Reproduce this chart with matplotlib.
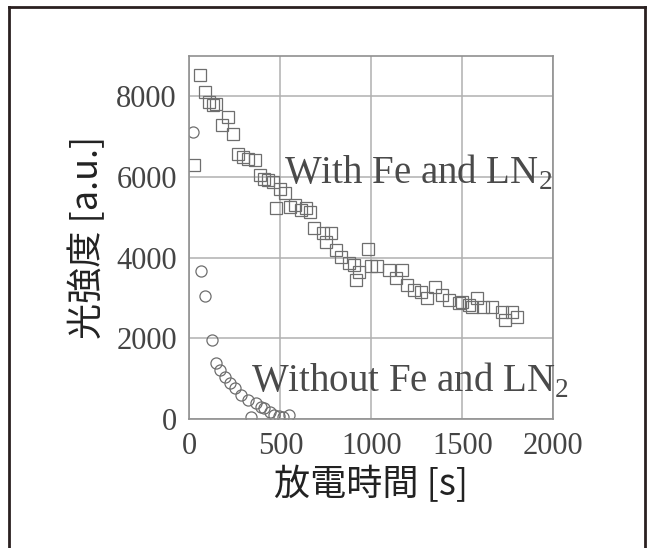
import matplotlib
matplotlib.use("Agg")
import matplotlib.pyplot as plt
from matplotlib.lines import Line2D

# Données
t_without = [22, 62, 86, 122, 144, 166, 193, 221, 248, 284, 321, 340, 366, 395,
             412, 440, 465, 490, 512, 549]
I_without = [7120, 3675, 3048, 1950, 1395, 1214, 1048, 885, 760, 595, 471, 50,
             389, 300, 265, 181, 110, 80, 40, 110]

t_with = [27, 58, 86, 108, 130, 144, 177, 210, 237, 268, 293, 320, 359, 386, 410,
          432, 459, 478, 500, 524, 550, 580, 614, 640, 660, 687, 733, 751, 778,
          805, 833, 878, 905, 917, 933, 984, 1000, 1033, 1097, 1133, 1170, 1197,
          1233, 1270, 1306, 1352, 1388, 1424, 1479, 1497, 1534, 1552, 1580, 1616,
          1661, 1716, 1734, 1770, 1798]
I_with = [6294, 8525, 8110, 7860, 7780, 7820, 7285, 7490, 7060, 6567, 6500, 6450,
          6418, 6046, 5950, 5922, 5880, 5221, 5700, 5600, 5261, 5300, 5180, 5220,
          5137, 4725, 4601, 4394, 4601, 4188, 4022, 3858, 3816, 3444, 3650, 4205,
          3800, 3791, 3692, 3487, 3692, 3320, 3196, 3150, 2990, 3278, 3073, 2949,
          2867, 2907, 2825, 2783, 2990, 2783, 2783, 2659, 2453, 2659, 2535]

x_ticks = [0, 500, 1000, 1500, 2000]
y_ticks = [0, 2000, 4000, 6000, 8000]

plt.rcParams["mathtext.fontset"] = "custom"
plt.rcParams["mathtext.rm"] = "Liberation Serif"

serif = "Liberation Serif"
cjk = ["Noto Sans CJK JP", "DejaVu Sans"]

fig = plt.figure(figsize=(6.51, 5.48), dpi=100)
ax = fig.add_axes([0.291, 0.2354, 0.559, 0.6626])

grey = "#6e6e6e"
ax.plot(t_with, I_with, linestyle="none", marker="s", markersize=8.8,
        markerfacecolor="none", markeredgecolor=grey, markeredgewidth=0.9)
ax.plot(t_without, I_without, linestyle="none", marker="o", markersize=8,
        markerfacecolor="none", markeredgecolor=grey, markeredgewidth=0.9)

ax.set_xlim(0, 2000)
ax.set_ylim(0, 9000)
ax.set_xticks(x_ticks)
ax.set_yticks(y_ticks)
ax.grid(True, color="#b0b0b0", linewidth=1.1)
ax.set_axisbelow(True)
for s in ax.spines.values():
    s.set_color("#909090")
    s.set_linewidth(1.2)
ax.tick_params(length=0, pad=9, labelcolor="#444444", labelsize=22)
for lab in ax.get_xticklabels() + ax.get_yticklabels():
    lab.set_family(serif)

ax.text(522, 6100, r"With Fe and LN$_2$", family=serif, fontsize=28,
        color="#4a4a4a", va="center", ha="left", clip_on=False)
ax.text(340, 950, r"Without Fe and LN$_2$", family=serif, fontsize=28,
        color="#4a4a4a", va="center", ha="left", clip_on=False)

ax.set_xlabel("放電時間 [s]", family=cjk, fontsize=26, color="#222222", labelpad=4)
ax.set_ylabel("光強度 [a.u.]", family=cjk, fontsize=26, color="#222222", labelpad=7)

# Cadre extérieur
fig.add_artist(Line2D([9 / 651, 9 / 651], [0, 1 - 7 / 548], color="#2a2020", lw=2))
fig.add_artist(Line2D([645 / 651, 645 / 651], [0, 1 - 7 / 548], color="#2a2020", lw=2))
fig.add_artist(Line2D([9 / 651, 645 / 651], [1 - 7 / 548, 1 - 7 / 548], color="#2a2020", lw=2))

fig.savefig("out.png", dpi=100)
